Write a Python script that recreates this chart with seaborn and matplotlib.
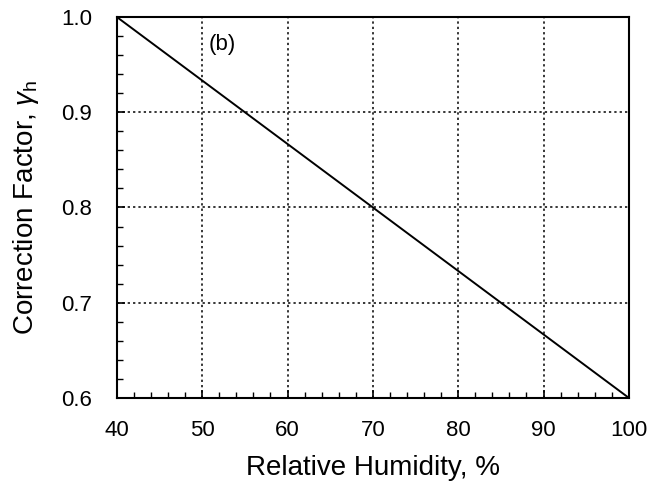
import matplotlib
matplotlib.use("Agg")
import matplotlib.pyplot as plt
from matplotlib.ticker import MultipleLocator
import seaborn as sns
import pandas as pd

# Correction factor vs relative humidity
humidity = [40, 100]
factor = [1.0, 0.6]
x_ticks = [40, 50, 60, 70, 80, 90, 100]
y_ticks = [0.6, 0.7, 0.8, 0.9, 1.0]

sns.set_theme(style="ticks")
plt.rcParams["font.family"] = ["Liberation Sans", "DejaVu Sans"]
plt.rcParams["mathtext.fontset"] = "custom"
plt.rcParams["mathtext.rm"] = "Liberation Sans"
plt.rcParams["mathtext.it"] = "Liberation Sans:italic"

df = pd.DataFrame({"Relative Humidity": humidity, "Correction Factor": factor})

fig = plt.figure(figsize=(6.53, 4.87), dpi=100)
ax = fig.add_axes([0.179, 0.183, 0.784, 0.782])

sns.lineplot(data=df, x="Relative Humidity", y="Correction Factor", ax=ax,
             color="black", linewidth=1.4)

ax.set_xlim(40, 100)
ax.set_ylim(0.6, 1.0)
ax.set_xticks(x_ticks)
ax.set_xticklabels([str(v) for v in x_ticks])
ax.set_yticks(y_ticks)
ax.set_yticklabels([f"{v:.1f}" for v in y_ticks])
ax.xaxis.set_minor_locator(MultipleLocator(2))
ax.yaxis.set_minor_locator(MultipleLocator(0.02))

ax.tick_params(which="both", direction="in", top=False, right=False,
               colors="black", labelsize=16)
ax.tick_params(axis="x", which="major", length=6, width=1.2, pad=16)
ax.tick_params(axis="y", which="major", length=6, width=1.2, pad=18)
ax.tick_params(which="minor", length=4, width=1.0)

ax.grid(True, which="major", color="black", linestyle=(0, (1.5, 2)), linewidth=1.1)
for s in ax.spines.values():
    s.set_visible(True)
    s.set_color("black")
    s.set_linewidth(1.5)

ax.set_xlabel("Relative Humidity, %", fontsize=20, labelpad=10, color="black")
ax.set_ylabel(r"Correction Factor, $\gamma_{\mathrm{h}}$", fontsize=20,
              labelpad=14, color="black")

ax.text(52.3, 0.971, "(b)", fontsize=16, ha="center", va="center", color="black")

fig.savefig("out.png", dpi=100)
